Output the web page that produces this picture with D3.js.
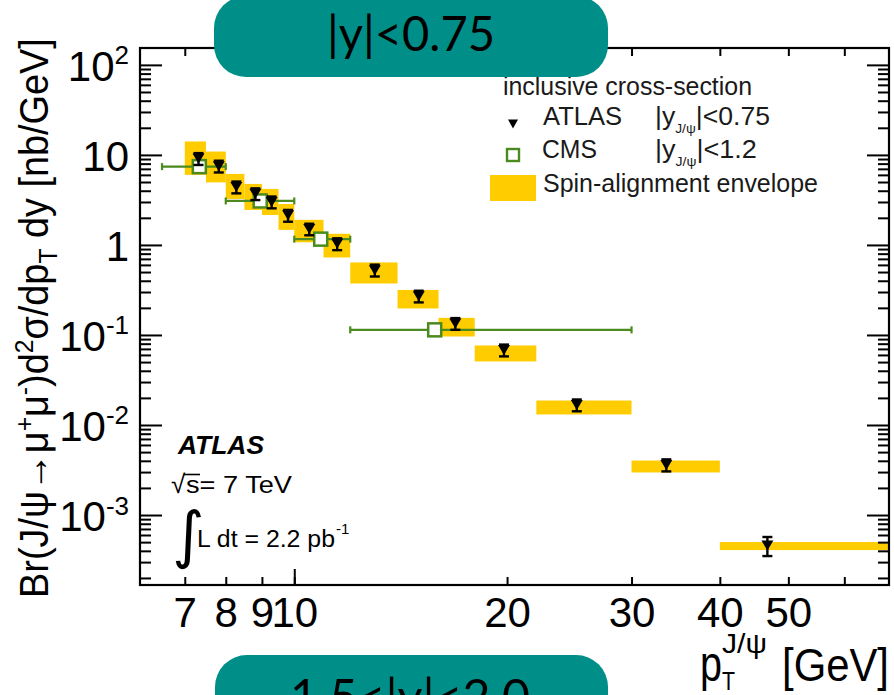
<!DOCTYPE html>
<html><head><meta charset="utf-8">
<script src="https://cdn.jsdelivr.net/npm/d3@7"></script>
<style>html,body{margin:0;padding:0;background:#fff;overflow:hidden}svg{display:block}</style>
</head><body>
<svg id="chart" width="894" height="695"></svg>
<script>
// pT bins (GeV) of the ATLAS |y|<0.75 measurement
const binLow  = [7, 7.5, 8, 8.5, 9, 9.5, 10, 11, 12, 14, 16, 18, 22, 30, 40];
const binHigh = [7.5, 8, 8.5, 9, 9.5, 10, 11, 12, 14, 16, 18, 22, 30, 40, 70];
// ATLAS points: mean pT in bin, cross-section [nb/GeV], total uncertainty
const atlasPt   = [7.32, 7.82, 8.28, 8.81, 9.29, 9.80, 10.5, 11.5, 13.0, 15.0, 16.9, 19.8, 25.1, 33.6, 46.7];
const atlasXsec = [9.1, 7.5, 4.4, 3.7, 3.0, 2.13, 1.5, 1.03, 0.525, 0.27, 0.134, 0.068, 0.0167, 0.0036, 0.00046];
const atlasErr  = [1.37, 1.12, 0.66, 0.55, 0.45, 0.32, 0.22, 0.155, 0.079, 0.04, 0.02, 0.0102, 0.0025, 0.00055, 0.00011];
// spin-alignment envelope per bin
const envLow  = [6.0, 4.95, 3.24, 2.45, 2.15, 1.47, 1.07, 0.726, 0.373, 0.197, 0.0962, 0.0508, 0.0131, 0.00297, 0.000408];
const envHigh = [14.1, 10.9, 6.15, 4.76, 4.19, 2.85, 1.90, 1.33, 0.639, 0.316, 0.155, 0.0764, 0.0187, 0.00403, 0.000501];
// CMS |y|<1.2 points
const cmsPt   = [7.34, 8.95, 10.9, 15.8];
const cmsLow  = [6.5, 8, 10, 12];
const cmsHigh = [8, 10, 12, 30];
const cmsXsec = [7.41, 3.08, 1.16, 0.114];
// axis ticks
const xTickValues = [7, 8, 9, 10, 20, 30, 40, 50, 60];
const xTickLabels = ["7", "8", "9", "10", "20", "30", "40", "50", ""];
const xMajorTicks = [10];
const yMajorTicks = [1e-3, 1e-2, 1e-1, 1, 10, 100];
const yTickLabels = [["10", "-3"], ["10", "-2"], ["10", "-1"], ["1", ""], ["10", ""], ["10", "2"]];

const L = 140, R = 889, T = 48, B = 585;
const font = "'Liberation Sans', Arial, Helvetica, sans-serif";
const yellow = "#FFCC00", green = "#4a8a1e", teal = "#008E89";

const x = d3.scaleLog().domain([6.05, 69.4]).range([L, R]);
const y = d3.scaleLog().domain([1.67e-4, 154]).range([B, T]);

const yMinorTicks = [];
for (let e = -4; e <= 2; e++) for (let k = 2; k <= 9; k++) {
  const v = k * Math.pow(10, e);
  if (v > y.domain()[0] && v < y.domain()[1]) yMinorTicks.push(v);
}

const svg = d3.select("#chart").style("font-family", font);
svg.append("defs").append("clipPath").attr("id", "plotArea")
  .append("rect").attr("x", L).attr("y", T).attr("width", R - L).attr("height", B - T);

const plot = svg.append("g").attr("clip-path", "url(#plotArea)");

// spin-alignment envelope boxes
plot.selectAll("rect.env").data(binLow).join("rect").attr("class", "env")
  .attr("x", (d, i) => x(binLow[i]))
  .attr("width", (d, i) => x(binHigh[i]) - x(binLow[i]))
  .attr("y", (d, i) => y(envHigh[i]))
  .attr("height", (d, i) => y(envLow[i]) - y(envHigh[i]))
  .attr("fill", yellow);

// CMS points with bin-width bars
const cms = plot.selectAll("g.cms").data(cmsPt).join("g").attr("class", "cms");
cms.append("line")
  .attr("x1", (d, i) => x(cmsLow[i])).attr("x2", (d, i) => x(cmsHigh[i]))
  .attr("y1", (d, i) => y(cmsXsec[i])).attr("y2", (d, i) => y(cmsXsec[i]))
  .attr("stroke", green).attr("stroke-width", 2.2);
[cmsLow, cmsHigh].forEach(arr => cms.append("line")
  .attr("x1", (d, i) => x(arr[i])).attr("x2", (d, i) => x(arr[i]))
  .attr("y1", (d, i) => y(cmsXsec[i]) - 3.5).attr("y2", (d, i) => y(cmsXsec[i]) + 3.5)
  .attr("stroke", green).attr("stroke-width", 2.2));
cms.append("rect")
  .attr("x", (d, i) => x(cmsPt[i]) - 6.5).attr("y", (d, i) => y(cmsXsec[i]) - 6.5)
  .attr("width", 13).attr("height", 13)
  .attr("fill", "#fff").attr("stroke", green).attr("stroke-width", 2.5);

// ATLAS points with error bars
const atl = plot.selectAll("g.atlas").data(atlasPt).join("g").attr("class", "atlas");
atl.append("line")
  .attr("x1", (d, i) => x(atlasPt[i])).attr("x2", (d, i) => x(atlasPt[i]))
  .attr("y1", (d, i) => y(atlasXsec[i] + atlasErr[i])).attr("y2", (d, i) => y(atlasXsec[i] - atlasErr[i]))
  .attr("stroke", "#000").attr("stroke-width", 2.4);
[1, -1].forEach(s => atl.append("line")
  .attr("x1", (d, i) => x(atlasPt[i]) - 5).attr("x2", (d, i) => x(atlasPt[i]) + 5)
  .attr("y1", (d, i) => y(atlasXsec[i] + s * atlasErr[i])).attr("y2", (d, i) => y(atlasXsec[i] + s * atlasErr[i]))
  .attr("stroke", "#000").attr("stroke-width", 2.4));
const triDown = (cx, cy, w, h) => `M${cx - w / 2},${cy - h / 2}L${cx + w / 2},${cy - h / 2}L${cx},${cy + h / 2}Z`;
atl.append("path")
  .attr("d", (d, i) => triDown(x(atlasPt[i]), y(atlasXsec[i]), 12, 10))
  .attr("fill", "#000");

// axes: ticks drawn inward on all four sides
function styleAxis(g) {
  g.select(".domain").remove();
  g.selectAll(".tick line").attr("stroke", "#000").attr("stroke-width", 2);
  g.selectAll(".tick text").attr("fill", "#000").attr("font-family", font);
}
const xb = svg.append("g").attr("transform", `translate(0,${B})`)
  .call(d3.axisBottom(x).tickValues(xTickValues).tickSize(-8).tickPadding(12)
    .tickFormat((d, i) => xTickLabels[i]))
  .call(styleAxis);
xb.selectAll(".tick text").attr("font-size", 42);
svg.append("g").attr("transform", `translate(0,${B})`)
  .call(d3.axisBottom(x).tickValues(xMajorTicks).tickSize(-16).tickFormat(""))
  .call(styleAxis);
svg.append("g").attr("transform", `translate(0,${T})`)
  .call(d3.axisTop(x).tickValues(xTickValues).tickSize(-8).tickFormat(""))
  .call(styleAxis);
svg.append("g").attr("transform", `translate(0,${T})`)
  .call(d3.axisTop(x).tickValues(xMajorTicks).tickSize(-16).tickFormat(""))
  .call(styleAxis);

const yl = svg.append("g").attr("transform", `translate(${L},0)`)
  .call(d3.axisLeft(y).tickValues(yMajorTicks).tickSize(-22).tickPadding(11).tickFormat(() => ""))
  .call(styleAxis);
yl.selectAll(".tick text").each(function (d, i) {
  const t = d3.select(this).attr("font-size", 42).attr("dy", "0.36em");
  t.append("tspan").text(yTickLabels[i][0]);
  if (yTickLabels[i][1]) t.append("tspan").attr("font-size", 26).attr("dy", "-0.62em").text(yTickLabels[i][1]);
});
svg.append("g").attr("transform", `translate(${L},0)`)
  .call(d3.axisLeft(y).tickValues(yMinorTicks).tickSize(-11).tickFormat(""))
  .call(styleAxis);
svg.append("g").attr("transform", `translate(${R},0)`)
  .call(d3.axisRight(y).tickValues(yMajorTicks).tickSize(-22).tickFormat(""))
  .call(styleAxis);
svg.append("g").attr("transform", `translate(${R},0)`)
  .call(d3.axisRight(y).tickValues(yMinorTicks).tickSize(-11).tickFormat(""))
  .call(styleAxis);

svg.append("rect").attr("x", L).attr("y", T).attr("width", R - L).attr("height", B - T)
  .attr("fill", "none").attr("stroke", "#000").attr("stroke-width", 2.2);

// scale a text horizontally about its x anchor so that it spans the given width
function fitX(text, width) {
  const w = text.node().getComputedTextLength();
  const x0 = +text.attr("x") || 0, s = width / w;
  text.attr("transform", `translate(${x0},0) scale(${s},1) translate(${-x0},0)`);
}

// y-axis title
const yt = svg.append("g").attr("transform", "translate(48,318) rotate(-90)")
  .append("text").attr("text-anchor", "middle").attr("font-size", 40).attr("fill", "#000");
yt.append("tspan").text("Br(J/\u03C8\u2192\u03BC");
yt.append("tspan").attr("font-size", 26).attr("dy", -15).text("+");
yt.append("tspan").attr("dy", 15).text("\u03BC");
yt.append("tspan").attr("font-size", 26).attr("dy", -15).text("-");
yt.append("tspan").attr("dy", 15).text(")d");
yt.append("tspan").attr("font-size", 26).attr("dy", -15).text("2");
yt.append("tspan").attr("dy", 15).text("\u03C3/dp");
yt.append("tspan").attr("font-size", 26).attr("dy", 9).text("T");
yt.append("tspan").attr("dy", -9).text(" dy [nb/GeV]");
fitX(yt, 560);

// x-axis title
const xt = svg.append("g").attr("transform", "translate(700,681)");
const xp = xt.append("text").attr("font-size", 50).attr("fill", "#000").text("p");
fitX(xp, 22);
xt.append("text").attr("x", 22).attr("y", 9).attr("font-size", 25).attr("fill", "#000")
  .attr("textLength", 13).attr("lengthAdjust", "spacingAndGlyphs").text("T");
xt.append("text").attr("x", 22).attr("y", -28).attr("font-size", 27).attr("fill", "#000")
  .attr("textLength", 45).attr("lengthAdjust", "spacingAndGlyphs").text("J/\u03C8");
xt.append("text").attr("x", 82).attr("font-size", 47).attr("fill", "#000")
  .attr("textLength", 107).attr("lengthAdjust", "spacingAndGlyphs").text("[GeV]");

// ATLAS label block
svg.append("text").attr("x", 178).attr("y", 454).attr("font-size", 25).attr("font-weight", "bold")
  .attr("font-style", "italic").attr("textLength", 86).attr("lengthAdjust", "spacingAndGlyphs").text("ATLAS");
svg.append("text").attr("x", 171).attr("y", 493).attr("font-size", 26).text("\u221A");
svg.append("line").attr("x1", 184).attr("x2", 200).attr("y1", 474.5).attr("y2", 474.5).attr("stroke", "#000").attr("stroke-width", 1.6);
svg.append("text").attr("x", 186).attr("y", 493).attr("font-size", 23)
  .attr("textLength", 106).attr("lengthAdjust", "spacingAndGlyphs").text("s= 7 TeV");
svg.append("text").attr("x", 172).attr("y", 556).attr("font-size", 62).attr("font-family", "'DejaVu Sans', sans-serif").text("\u222B");
svg.append("text").attr("x", 197).attr("y", 547).attr("font-size", 23)
  .attr("textLength", 138).attr("lengthAdjust", "spacingAndGlyphs").text("L dt = 2.2 pb");
svg.append("text").attr("x", 336).attr("y", 534).attr("font-size", 15).text("-1");

// legend
const leg = svg.append("g").attr("fill", "#1a1a1a");
leg.append("text").attr("x", 503).attr("y", 95).attr("font-size", 25)
  .attr("textLength", 249).attr("lengthAdjust", "spacingAndGlyphs").text("inclusive cross-section");
leg.append("path").attr("d", triDown(513, 124, 10, 9)).attr("fill", "#000");
leg.append("text").attr("x", 543).attr("y", 125).attr("font-size", 25)
  .attr("textLength", 79).attr("lengthAdjust", "spacingAndGlyphs").text("ATLAS");
function rapidityLabel(yBase, cut) {
  const t = leg.append("text").attr("x", 655).attr("y", yBase).attr("font-size", 25);
  t.append("tspan").text("|y");
  t.append("tspan").attr("font-size", 13).attr("dy", 8).text("J/\u03C8");
  t.append("tspan").attr("dy", -8).text("|<" + cut);
  return t;
}
fitX(rapidityLabel(125, "0.75"), 115);
leg.append("rect").attr("x", 507).attr("y", 149).attr("width", 12).attr("height", 12)
  .attr("fill", "#fff").attr("stroke", green).attr("stroke-width", 2.4);
leg.append("text").attr("x", 542).attr("y", 158).attr("font-size", 25)
  .attr("textLength", 55).attr("lengthAdjust", "spacingAndGlyphs").text("CMS");
fitX(rapidityLabel(158, "1.2"), 102);
leg.append("rect").attr("x", 490).attr("y", 175).attr("width", 46).attr("height", 26).attr("fill", yellow);
leg.append("text").attr("x", 543).attr("y", 192).attr("font-size", 25)
  .attr("textLength", 275).attr("lengthAdjust", "spacingAndGlyphs").text("Spin-alignment envelope");

// rapidity range tabs
svg.append("rect").attr("x", 214).attr("y", -4).attr("width", 394).attr("height", 81).attr("rx", 32).attr("fill", teal);
svg.append("text").attr("x", 327).attr("y", 51).attr("font-size", 48).attr("font-family", "Lato, 'Open Sans', sans-serif")
  .attr("textLength", 168).attr("lengthAdjust", "spacingAndGlyphs").attr("fill", "#000").text("|y|<0.75");
svg.append("rect").attr("x", 215).attr("y", 655).attr("width", 393).attr("height", 90).attr("rx", 32).attr("fill", teal);
svg.append("text").attr("x", 290).attr("y", 714).attr("font-size", 48).attr("font-family", "Lato, 'Open Sans', sans-serif")
  .attr("textLength", 240).attr("lengthAdjust", "spacingAndGlyphs").attr("fill", "#000").text("1.5<|y|<2.0");
</script>
</body></html>
